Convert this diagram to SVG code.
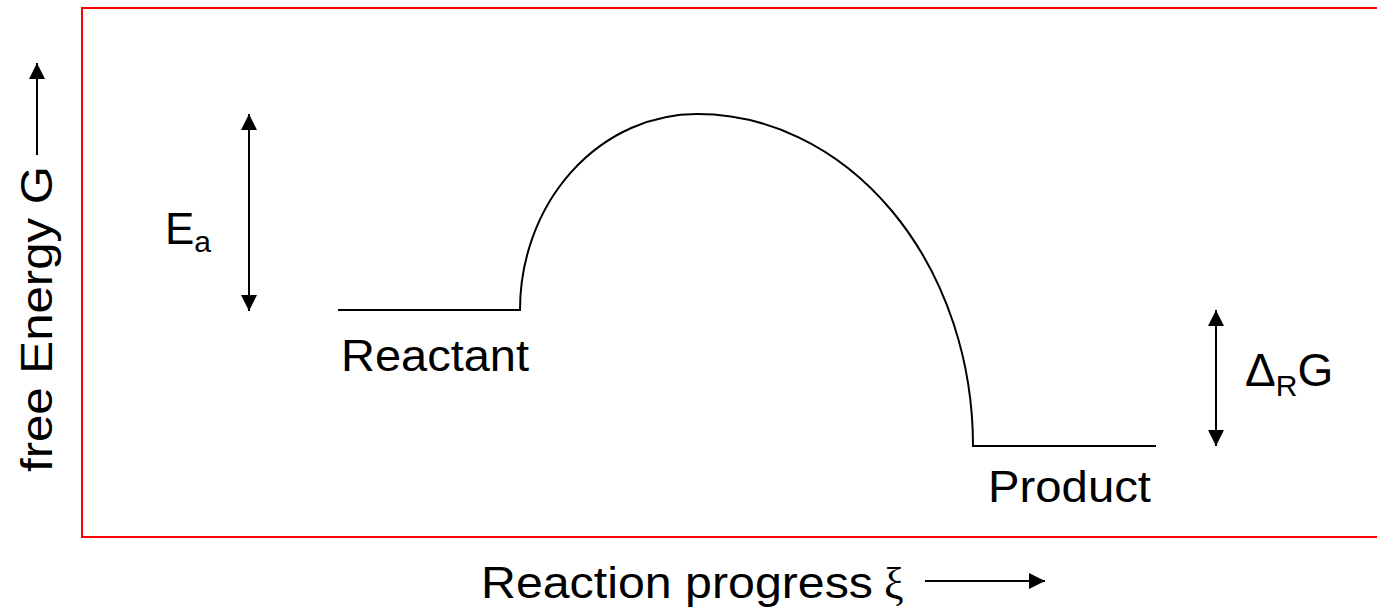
<svg xmlns="http://www.w3.org/2000/svg" width="1377" height="607" viewBox="0 0 1377 607">
<style>
.t{font-family:"Liberation Sans",Arial,sans-serif;fill:#000}
.ln{stroke:#000;stroke-width:2;fill:none}
</style>
<defs>
<marker id="ah" viewBox="0 0 10 10" refX="10" refY="5" markerWidth="16" markerHeight="16" markerUnits="userSpaceOnUse" orient="auto-start-reverse">
<path d="M0,0 L10,5 L0,10 z" fill="#000"/>
</marker>
</defs>
<rect x="0" y="0" width="1377" height="607" fill="#fff"/>
<rect id="frame" x="82" y="8" width="1310" height="529" fill="none" stroke="#ff0000" stroke-width="2"/>
<g id="axis-y">
<line class="ln" x1="37" y1="155" x2="37" y2="63" marker-end="url(#ah)"/>
<text class="t" font-size="44" transform="translate(52,472) rotate(-90)" textLength="306" lengthAdjust="spacingAndGlyphs">free Energy G</text>
</g>
<g id="axis-x">
<text class="t" font-size="44" x="481" y="598" textLength="392" lengthAdjust="spacingAndGlyphs">Reaction progress</text>
<text x="884" y="598" font-size="44" font-family="Liberation Serif,serif">ξ</text>
<line class="ln" x1="925" y1="581" x2="1045" y2="581" marker-end="url(#ah)"/>
</g>
<g id="connectors">
<path class="ln" d="M338,310 L520,310 A177,196 0 0 1 697,114 A276,332 0 0 1 973,446 L1156,446"/>
</g>
<g id="reactant">
<text class="t" font-size="44" x="341" y="371" textLength="188" lengthAdjust="spacingAndGlyphs">Reactant</text>
</g>
<g id="product">
<text class="t" font-size="44" x="988" y="502" textLength="163" lengthAdjust="spacingAndGlyphs">Product</text>
</g>
<g id="ea">
<line class="ln" x1="249" y1="114" x2="249" y2="311" marker-start="url(#ah)" marker-end="url(#ah)"/>
<text class="t" font-size="44" x="165" y="244">E<tspan font-size="30" dy="8">a</tspan></text>
</g>
<g id="drg">
<line class="ln" x1="1216" y1="310" x2="1216" y2="446" marker-start="url(#ah)" marker-end="url(#ah)"/>
<text class="t" font-size="46" x="1245" y="386">Δ<tspan font-size="30" dy="10">R</tspan><tspan dy="-10">G</tspan></text>
</g>
</svg>
